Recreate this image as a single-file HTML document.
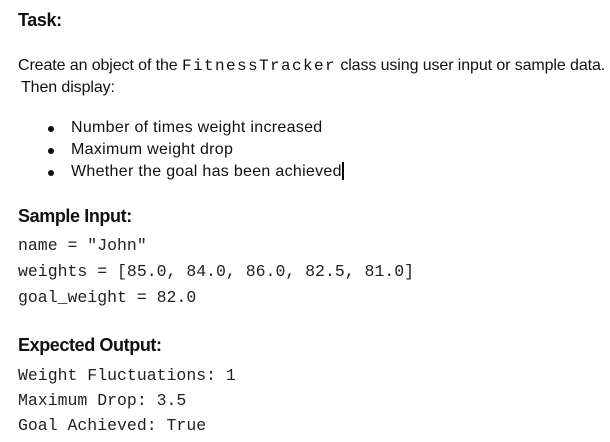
<!DOCTYPE html>
<html><head><meta charset="utf-8"><style>
body{margin:0;width:610px;height:442px;background:#fff;position:relative;overflow:hidden;font-family:"Liberation Sans",sans-serif;color:#111}
div{position:absolute;white-space:nowrap;line-height:20px}
.h{font-weight:bold;font-size:18px;left:18px;letter-spacing:-0.4px}
.t{font-size:16px;letter-spacing:-0.1px}
.bt{letter-spacing:0.3px}
.m{font-family:"Liberation Mono",monospace;font-size:16.5px;left:18px;color:#222}
.b{left:48px;width:6px;height:6px;border-radius:50%;background:#111}
</style></head><body>
<div class="h" style="top:10px">Task:</div>
<div class="t" style="top:56px;left:18px">Create an object of the <span style="font-family:'Liberation Mono',monospace;font-size:16px;letter-spacing:1.4px">FitnessTracker</span> class using user input or sample data.</div>
<div class="t" style="top:78px;left:21px">Then display:</div>
<div class="b" style="top:126px"></div><div class="t bt" style="top:118px;left:71px">Number of times weight increased</div>
<div class="b" style="top:148px"></div><div class="t bt" style="top:140px;left:71px">Maximum weight drop</div>
<div class="b" style="top:170px"></div><div class="t bt" style="top:162px;left:71px">Whether the goal has been achieved<span style="display:inline-block;width:2px;height:18px;background:#000;vertical-align:-4px"></span></div>
<div class="h" style="top:206px">Sample Input:</div>
<div class="m" style="top:236px">name = "John"</div>
<div class="m" style="top:262px">weights = [85.0, 84.0, 86.0, 82.5, 81.0]</div>
<div class="m" style="top:288px">goal_weight = 82.0</div>
<div class="h" style="top:335px">Expected Output:</div>
<div class="m" style="top:366px">Weight Fluctuations: 1</div>
<div class="m" style="top:391px">Maximum Drop: 3.5</div>
<div class="m" style="top:416px">Goal Achieved: True</div>
</body></html>
